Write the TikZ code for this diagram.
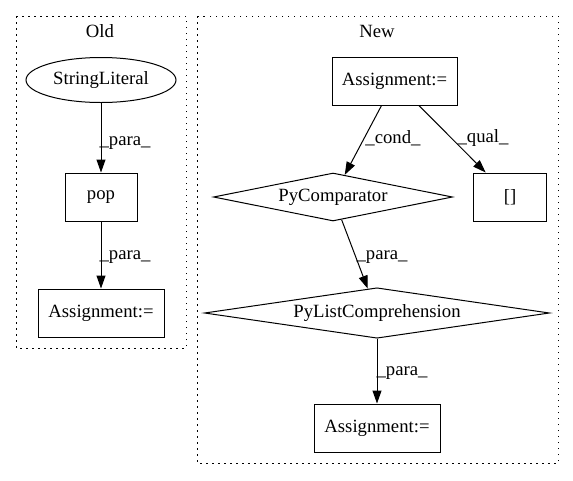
\documentclass[tikz,border=0pt]{standalone}
\usepackage{fontspec}
\setmainfont{Liberation Serif}
\usetikzlibrary{arrows.meta, shapes.geometric}

\begin{document}
\begin{tikzpicture}[x=1pt,y=-1pt,
  font=\fontsize{18.7}{22}\selectfont,
  box/.style={draw, rectangle, minimum height=48pt, inner sep=0pt, line width=1pt},
  cond/.style={draw, diamond, aspect=5, minimum height=48pt, inner sep=0pt, line width=1pt},
  lit/.style={draw, ellipse, minimum height=45pt, inner sep=0pt, line width=1pt},
  edge/.style={-{Triangle[length=13pt,width=9pt]}, line width=1pt},
  cluster/.style={draw, line width=1pt, dash pattern=on 1.5pt off 4.5pt}]
\useasboundingbox (0,0) rectangle (573,480);
% Cluster Old
\draw[cluster] (16,16) rectangle (186,348);
\node (oldlbl) at (100,31) {Old};
% Cluster New
\draw[cluster] (197,16) rectangle (558,463);
\node (newlbl) at (377,31) {New};
% Old nodes
\node[lit, minimum width=150pt] (strlit) at (101,80) {StringLiteral};
\node[box, minimum width=72pt] (pop) at (101,197) {pop};
\node[box, minimum width=126pt] (oldasg) at (101,313) {Assignment:=};
% New nodes
\node[box, minimum width=125pt] (newasg) at (394.5,81) {Assignment:=};
\node[cond, minimum width=239pt] (pycmp) at (333,197) {PyComparator};
\node[box, minimum width=73pt] (idx) at (510,197) {[]};
\node[cond, minimum width=345pt] (pylist) at (377,313) {PyListComprehension};
\node[box, minimum width=126pt] (resasg) at (377,428) {Assignment:=};
% Edges
\draw[edge] (strlit) -- (pop);
\draw[edge] (pop) -- (oldasg);
\draw[edge] (newasg) -- (pycmp);
\draw[edge] (newasg) -- (idx);
\draw[edge] (pycmp) -- (pylist);
\draw[edge] (pylist) -- (resasg);
% Edge labels
\node (l1) at (125,143) {\_para\_};
\node (l2) at (125,257) {\_para\_};
\node (l3) at (393,138) {\_cond\_};
\node (l4) at (483,138) {\_qual\_};
\node (l5) at (382,257) {\_para\_};
\node (l6) at (402,373) {\_para\_};
\end{tikzpicture}
\end{document}
